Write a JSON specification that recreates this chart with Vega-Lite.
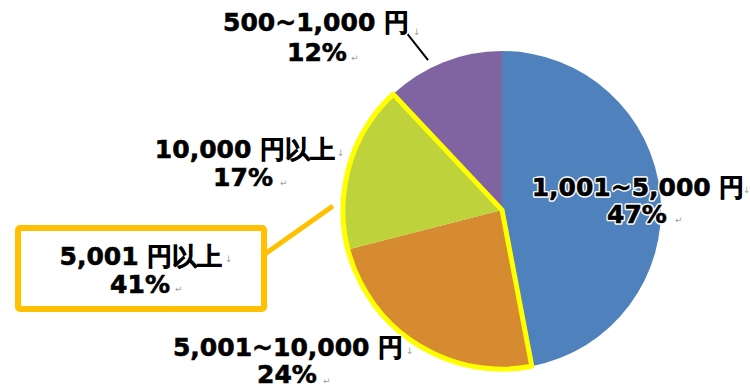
{
  "$schema": "https://vega.github.io/schema/vega-lite/v6.json",
  "width": 316,
  "height": 316,
  "autosize": {"type": "none"},
  "padding": {"left": 344, "top": 52, "right": 90, "bottom": 21},
  "background": "white",
  "config": {"view": {"stroke": null}},
  "datasets": {
    "slices": [
      {"category": "1,001~5,000円", "value": 47, "rank": 1},
      {"category": "5,001~10,000円", "value": 24, "rank": 2},
      {"category": "10,000円以上", "value": 17, "rank": 3},
      {"category": "500~1,000円", "value": 12, "rank": 4}
    ],
    "highlight": [{"group": "5,001円以上", "start": 47, "end": 88}],
    "leaders": [
      {"line": "purple", "u": -0.614, "v": 1.133},
      {"line": "purple", "u": -0.468, "v": 0.949},
      {"line": "callout", "u": -1.5, "v": -0.278},
      {"line": "callout", "u": -1.07, "v": 0.025}
    ],
    "box": [{"u1": -3.063, "u2": -1.506, "v1": -0.114, "v2": -0.627}],
    "labels": [
      {"text": "500~1,000 円", "u": -1.177, "v": 1.184},
      {"text": "12%", "u": -1.171, "v": 0.994},
      {"text": "10,000 円以上", "u": -1.627, "v": 0.38},
      {"text": "17%", "u": -1.639, "v": 0.203},
      {"text": "1,001~5,000 円", "u": 0.861, "v": 0.139},
      {"text": "47%", "u": 0.854, "v": -0.032},
      {"text": "5,001~10,000 円", "u": -1.354, "v": -0.873},
      {"text": "24%", "u": -1.361, "v": -1.044},
      {"text": "5,001 円以上", "u": -2.285, "v": -0.297},
      {"text": "41%", "u": -2.291, "v": -0.475}
    ],
    "marks": [
      {"text": "↓", "u": -0.563, "v": 1.127},
      {"text": "↓", "u": -1.044, "v": 0.361},
      {"text": "↓", "u": 1.525, "v": 0.127},
      {"text": "↓", "u": -0.608, "v": -0.892},
      {"text": "↓", "u": -1.753, "v": -0.31},
      {"text": "↵", "u": -0.956, "v": 0.962},
      {"text": "↵", "u": -1.405, "v": 0.171},
      {"text": "↵", "u": 1.095, "v": -0.063},
      {"text": "↵", "u": -1.133, "v": -1.082},
      {"text": "↵", "u": -2.07, "v": -0.5}
    ]
  },
  "layer": [
    {
      "data": {"name": "slices"},
      "mark": {"type": "arc", "outerRadius": 159},
      "encoding": {
        "theta": {"field": "value", "type": "quantitative", "stack": true, "scale": {"domain": [0, 100]}},
        "order": {"field": "rank", "type": "quantitative"},
        "color": {
          "field": "category", "type": "nominal", "legend": null,
          "scale": {
            "domain": ["1,001~5,000円", "5,001~10,000円", "10,000円以上", "500~1,000円"],
            "range": ["#4F81BD", "#D68B30", "#BED23B", "#8064A2"]
          }
        }
      }
    },
    {
      "data": {"name": "highlight"},
      "mark": {"type": "arc", "outerRadius": 159, "fillOpacity": 0, "strokeWidth": 5, "stroke": "#FFFF00", "strokeJoin": "round"},
      "encoding": {
        "theta": {"field": "start", "type": "quantitative", "scale": {"domain": [0, 100]}},
        "theta2": {"field": "end"}
      }
    },
    {
      "data": {"name": "leaders"},
      "transform": [{"filter": "datum.line === 'purple'"}],
      "mark": {"type": "line", "color": "#000000", "strokeWidth": 2},
      "encoding": {
        "x": {"field": "u", "type": "quantitative", "axis": null, "scale": {"domain": [-1, 1], "nice": false, "zero": false}},
        "y": {"field": "v", "type": "quantitative", "axis": null, "scale": {"domain": [-1, 1], "nice": false, "zero": false}}
      }
    },
    {
      "data": {"name": "leaders"},
      "transform": [{"filter": "datum.line === 'callout'"}],
      "mark": {"type": "line", "color": "#FFC000", "strokeWidth": 5},
      "encoding": {
        "x": {"field": "u", "type": "quantitative"},
        "y": {"field": "v", "type": "quantitative"}
      }
    },
    {
      "data": {"name": "box"},
      "mark": {"type": "rect", "fill": "#FFFFFF", "stroke": "#FFC000", "strokeWidth": 6, "cornerRadius": 2},
      "encoding": {
        "x": {"field": "u1", "type": "quantitative"},
        "x2": {"field": "u2"},
        "y": {"field": "v1", "type": "quantitative"},
        "y2": {"field": "v2"}
      }
    },
    {
      "data": {"name": "labels"},
      "mark": {"type": "text", "font": "DejaVu Sans", "fontWeight": "bold", "fontSize": 25, "align": "center", "baseline": "middle", "stroke": "#FFFFFF", "strokeWidth": 3.5, "strokeJoin": "round", "fill": "#FFFFFF"},
      "encoding": {
        "x": {"field": "u", "type": "quantitative"},
        "y": {"field": "v", "type": "quantitative"},
        "text": {"field": "text"}
      }
    },
    {
      "data": {"name": "labels"},
      "mark": {"type": "text", "font": "DejaVu Sans", "fontWeight": "bold", "fontSize": 25, "align": "center", "baseline": "middle", "fill": "#000000", "stroke": "#000000", "strokeWidth": 0.6},
      "encoding": {
        "x": {"field": "u", "type": "quantitative"},
        "y": {"field": "v", "type": "quantitative"},
        "text": {"field": "text"}
      }
    },
    {
      "data": {"name": "marks"},
      "mark": {"type": "text", "font": "DejaVu Sans", "fontSize": 9, "align": "left", "baseline": "middle", "fill": "#A0A0A0"},
      "encoding": {
        "x": {"field": "u", "type": "quantitative"},
        "y": {"field": "v", "type": "quantitative"},
        "text": {"field": "text"}
      }
    }
  ]
}
